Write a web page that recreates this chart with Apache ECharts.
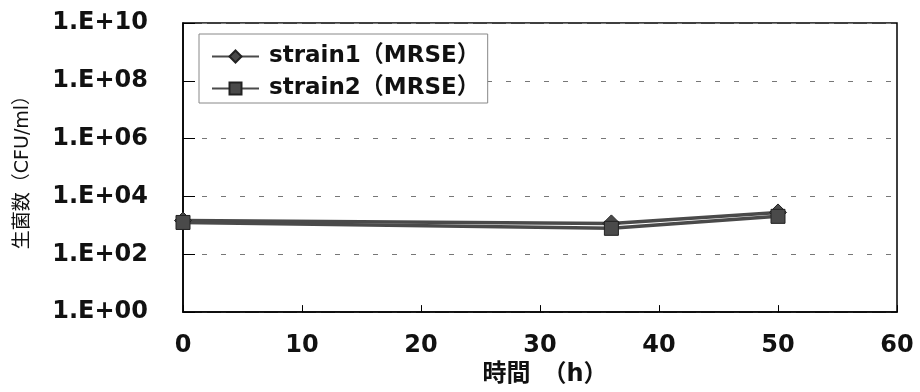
<!DOCTYPE html>
<html>
<head>
<meta charset="utf-8">
<script src="https://cdn.jsdelivr.net/npm/echarts@6/dist/echarts.min.js"></script>
<style>html,body{margin:0;padding:0;background:#fff;}#c{width:920px;height:392px;}</style>
</head>
<body>
<div id="c"></div>
<script>
const seriesNames = ['strain1（MRSE）', 'strain2（MRSE）'];
const hours = [0, 36, 50];
const strain1 = [1.47e3, 1.17e3, 2.8e3];
const strain2 = [1.26e3, 7.9e2, 2.05e3];
const xTicks = [0, 10, 20, 30, 40, 50, 60];
const yTickExponents = [0, 2, 4, 6, 8, 10];
const xTitle = '時間　（h）';
const yTitle = '生菌数（CFU/ml）';

const FONT = "'DejaVu Sans', 'Noto Sans CJK JP', sans-serif";
function pair(xs, ys){ return xs.map((x,i)=>[x, ys[i]]); }
function fmtExp(v){
  const e = Math.round(Math.log10(v));
  return '1.E+' + String(e).padStart(2,'0');
}

const chart = echarts.init(document.getElementById('c'), null, {renderer:'canvas'});
chart.setOption({
  animation: false,
  backgroundColor: '#fff',
  grid: {left: 183, right: 23, top: 23, bottom: 71, show: true, borderColor: '#000', borderWidth: 1.5, backgroundColor: 'transparent'},
  legend: {
    left: 199, top: 34, orient: 'vertical',
    padding: [11, 8, 3, 12],
    itemWidth: 47, itemHeight: 15, itemGap: 9,
    borderColor: '#888', borderWidth: 1, backgroundColor: '#fff',
    textStyle: {fontFamily: FONT, fontSize: 23, fontWeight: 'bold', color: '#111', padding: [0,0,0,5]},
    data: seriesNames
  },
  xAxis: {
    type: 'value', min: xTicks[0], max: xTicks[xTicks.length-1], interval: 10,
    name: xTitle, nameLocation: 'middle', nameGap: 48,
    nameTextStyle: {fontFamily: FONT, fontSize: 24, fontWeight: 'bold', color: '#111', padding: [0,0,0,10]},
    axisLine: {show: true, lineStyle: {color: '#000', width: 1.5}},
    axisTick: {show: true, inside: true, length: 7, lineStyle: {color: '#000'}},
    axisLabel: {margin: 22, fontFamily: FONT, fontSize: 24, fontWeight: 'bold', color: '#111',
      customValues: xTicks},
    splitLine: {show: false}
  },
  yAxis: {
    type: 'log', logBase: 100, min: Math.pow(10, yTickExponents[0]), max: Math.pow(10, yTickExponents[yTickExponents.length-1]),
    splitNumber: 5,
    name: yTitle, nameLocation: 'middle', nameGap: 150,
    nameTextStyle: {fontFamily: FONT, fontSize: 19, color: '#111'},
    axisLine: {show: true, lineStyle: {color: '#000', width: 1.5}},
    axisTick: {show: true, inside: true, length: 12, lineStyle: {color: '#000'}},
    axisLabel: {margin: 35, fontFamily: FONT, fontSize: 24, fontWeight: 'bold', color: '#111', formatter: fmtExp},
    splitLine: {show: true, lineStyle: {color: '#777', type: [5, 14], width: 1}},
    minorTick: {show: false}
  },
  series: [
    {name: seriesNames[0], type: 'line', data: pair(hours, strain1), symbol: 'diamond', symbolSize: 17,
     lineStyle: {color: '#4a4a4a', width: 3.5}, itemStyle: {color: '#4a4a4a', borderColor: '#222', borderWidth: 1}},
    {name: seriesNames[1], type: 'line', data: pair(hours, strain2), symbol: 'rect', symbolSize: 14,
     lineStyle: {color: '#4a4a4a', width: 3.5}, itemStyle: {color: '#4a4a4a', borderColor: '#222', borderWidth: 1}}
  ]
});
</script>
</body>
</html>
